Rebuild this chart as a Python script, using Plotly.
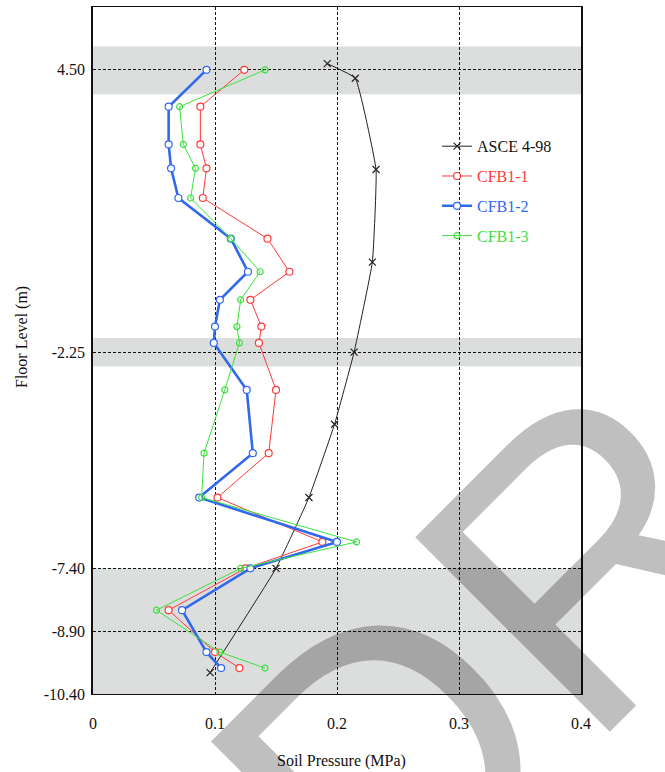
import plotly.graph_objects as go

# ---- data ----
levels = [4.50, 3.62, 2.72, 2.15, 1.44, 0.47, -0.32, -0.99, -1.63, -2.02,
          -3.14, -4.65, -5.71, -6.77, -7.40, -8.40, -9.40, -9.78]
cfb1_1 = [0.124, 0.088, 0.088, 0.093, 0.090, 0.143, 0.161, 0.129, 0.138, 0.136,
          0.150, 0.144, 0.102, 0.188, 0.125, 0.062, 0.100, 0.120]
cfb1_2 = [0.093, 0.062, 0.062, 0.064, 0.070, 0.113, 0.127, 0.104, 0.100, 0.099,
          0.126, 0.131, 0.087, 0.200, 0.129, 0.073, 0.093, 0.105]
cfb1_3 = [0.141, 0.071, 0.074, 0.084, 0.080, 0.113, 0.137, 0.121, 0.118, 0.120,
          0.108, 0.091, 0.089, 0.216, 0.121, 0.052, 0.104, 0.141]
asce_levels = [4.65, 4.30, 2.12, -0.09, -2.24, -3.96, -5.71, -7.40, -9.89]
asce_4_98 = [0.192, 0.215, 0.232, 0.229, 0.214, 0.198, 0.177, 0.150, 0.096]

y_ticks = [4.50, -2.25, -7.40, -8.90, -10.40]
y_tick_text = ["4.50", "-2.25", "-7.40", "-8.90", "-10.40"]
x_ticks = [0, 0.1, 0.2, 0.3, 0.4]
x_tick_text = ["0", "0.1", "0.2", "0.3", "0.4"]
bands = [(3.92, 5.06), (-2.58, -1.90), (-10.40, -7.40)]

FONT = "Liberation Serif, Times New Roman, serif"
RED, BLUE, GREEN, BLACK = "#ff3a3a", "#3068ee", "#3ee03e", "#222222"

fig = go.Figure()

fig.add_trace(go.Scatter(
    x=asce_4_98, y=asce_levels, mode="lines+markers",
    name="<span style='color:#111111'>ASCE 4-98</span>", legendgroup="a",
    line=dict(color=BLACK, width=1, shape="spline", smoothing=0.3),
    marker=dict(symbol="x-thin-open", size=7, color=BLACK, line=dict(width=1.2, color=BLACK))))
fig.add_trace(go.Scatter(
    x=cfb1_1, y=levels, mode="lines+markers",
    name=f"<span style='color:{RED}'>CFB1-1</span>", legendgroup="b",
    line=dict(color=RED, width=1),
    marker=dict(symbol="circle", size=7, color="white", line=dict(width=1.2, color=RED))))
fig.add_trace(go.Scatter(
    x=cfb1_2, y=levels, mode="lines+markers",
    name=f"<span style='color:{BLUE}'>CFB1-2</span>", legendgroup="c",
    line=dict(color=BLUE, width=2.6),
    marker=dict(symbol="circle", size=7, color="white", line=dict(width=1.2, color=BLUE))))
fig.add_trace(go.Scatter(
    x=cfb1_3, y=levels, mode="lines+markers",
    name=f"<span style='color:{GREEN}'>CFB1-3</span>", legendgroup="d",
    line=dict(color=GREEN, width=1),
    marker=dict(symbol="circle-open", size=6, color=GREEN, line=dict(width=1.2, color=GREEN))))

for lo, hi in bands:
    fig.add_shape(type="rect", xref="x domain", yref="y", x0=0, x1=1, y0=lo, y1=hi,
                  fillcolor="#dcdddd", line=dict(width=0), layer="below")

fig.update_layout(
    width=665, height=772,
    margin=dict(l=93, r=84, t=7, b=78),
    paper_bgcolor="white", plot_bgcolor="white",
    font=dict(family=FONT, size=16, color="#111111"),
    showlegend=True,
    legend=dict(x=0.705, y=0.822, xanchor="left", yanchor="top",
                bgcolor="rgba(0,0,0,0)", tracegroupgap=6,
                font=dict(family=FONT, size=16)),
    xaxis=dict(range=[0, 0.4], tickvals=x_ticks, ticktext=x_tick_text,
               showgrid=True, gridcolor="#111111", gridwidth=1, griddash="3px,2px",
               showline=True, linecolor="#111111", linewidth=1.2, mirror=True,
               zeroline=False, ticks="", ticklabelstandoff=15),
    yaxis=dict(range=[-10.4, 6.0], tickvals=y_ticks, ticktext=y_tick_text,
               showgrid=True, gridcolor="#111111", gridwidth=1, griddash="3px,2px",
               showline=True, linecolor="#111111", linewidth=1.5, mirror=True,
               zeroline=False, ticks="", ticklabelstandoff=3),
)

fig.add_annotation(text="Soil Pressure (MPa)", xref="paper", yref="paper",
                   x=(341.5 - 93) / 488, y=-(761 - 694) / 687, xanchor="center",
                   yanchor="middle", showarrow=False, font=dict(family=FONT, size=16))
fig.add_annotation(text="Floor Level (m)", xref="paper", yref="paper",
                   x=-(93 - 22) / 488, y=(694 - 337) / 687, xanchor="center",
                   yanchor="middle", textangle=-90, showarrow=False,
                   font=dict(family=FONT, size=16))

# watermark
fig.add_annotation(text="DRAFT", xref="paper", yref="paper",
                   x=1.3566, y=0.4425, xanchor="center",
                   yanchor="middle", textangle=-45, showarrow=False,
                   font=dict(family="Liberation Sans, Arial, sans-serif", size=400,
                             color="rgba(0,0,0,0.25)"))

fig.write_html("out.html", config={"displayModeBar": False},
               post_script="document.body.style.margin='0';")
